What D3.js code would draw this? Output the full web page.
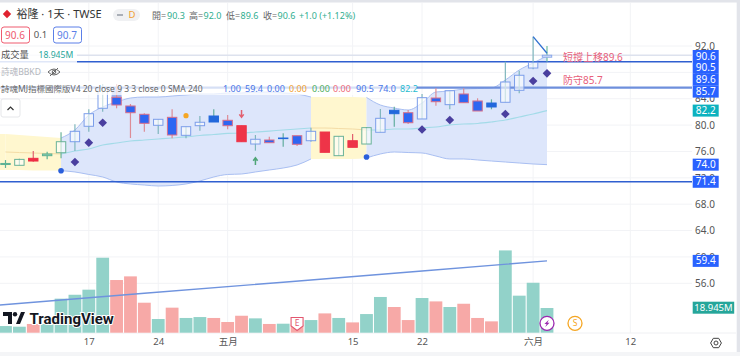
<!DOCTYPE html>
<html><head><meta charset="utf-8">
<script src="https://cdn.jsdelivr.net/npm/d3@7"></script>
<style>
html,body{margin:0;padding:0;background:#fff;overflow:hidden}
svg{display:block}
text{font-family:"Noto Sans","Noto Sans CJK TC",sans-serif}
</style></head><body>
<div id="chart"></div>
<script>
// ---- data ----
const opens  = [74.02,73.9,74.96,75.36,75.81,77.48,79.82,82.55,84.22,82.9,81.64,79.97,81.18,78.45,79.91,81.38,80.73,79.91,77.13,77.74,78.04,78.39,77.63,78.95,75.36,77.63,77.13,78.91,82.25,81.88,80.93,84.11,83.1,84.72,83.66,83.35,83.46,85.28,88.66,90.3];
const highs  = [74.7,74.9,76.07,75.97,78.91,80.12,82.4,86.23,86.23,83.2,81.79,80.88,82.4,79.76,81.38,82.4,81.53,79.91,78.5,78.24,78.76,78.39,79.61,78.95,78.3,78.65,79.71,82.44,82.79,82.29,84.72,85.58,85.22,85.58,84.07,83.91,89.62,88.25,93.41,92.0];
const lows   = [73.5,73.9,74.45,74.81,74.96,76.07,79.0,82.03,82.55,78.04,79.0,78.65,78.0,78.0,79.15,80.47,79.36,77.48,76.12,77.28,76.72,76.83,77.48,75.87,75.36,76.63,77.13,78.91,79.76,80.17,80.93,82.94,82.4,83.4,82.14,82.4,83.46,84.82,88.47,89.6];
const closes = [74.18,74.8,74.55,75.62,77.48,79.06,81.73,85.63,83.05,81.88,80.27,80.88,78.5,79.76,80.43,80.47,79.91,77.48,77.85,77.33,77.95,77.09,79.06,75.87,78.3,76.63,79.61,81.03,81.73,80.36,84.16,83.55,85.22,83.4,82.14,82.75,86.54,87.56,89.53,90.6];
const candleStyles = ["gf","hg","rt","gf","hg","hb","hb","hb","fr","fr","fr","hb","fr","hb","hb","fb","fr","r","hb","fr","fb","fr","hb","r","hg","r","hg","hb","fb","fr","hb","fr","hb","fr","fr","fb","hb","hb","hb","hl"];
const volumes = [5.1,4.6,6.7,6.7,26.1,29.1,33,57.5,40.4,43.2,23,10.5,19.2,11.3,12,11.3,8.2,13,11,6.7,6.9,6.1,9.7,14.8,11.3,7.9,14.3,27.4,19.7,9.7,26.6,24,19.7,22.2,11.3,8.7,63.1,28.4,38.3,18.945];
const volumeUp = [1,1,0,1,1,1,1,1,0,0,0,1,0,1,1,0,0,0,1,0,1,0,1,0,1,0,1,1,0,0,1,0,1,0,0,0,1,1,1,1];
const bandUpper = [78.65,78.5,78.35,78.2,78.04,79.26,81.53,82.75,83.5,84.11,84.26,84.26,84.41,84.57,84.72,84.72,84.87,84.87,85.02,85.02,84.87,84.72,84.26,84.26,84.26,84.26,84.19,83.05,82.59,82.29,83.35,85.02,85.17,85.47,85.55,85.63,86.84,88.36,89.42,90.5];
const bandLower = [73.19,73.19,73.11,73.11,73.08,72.89,72.51,72.13,71.37,71.07,70.91,70.76,70.84,71.07,71.52,72.13,72.51,72.58,72.89,73.19,73.49,73.95,74.86,74.86,74.86,74.86,75.01,75.62,75.92,75.84,75.77,75.31,74.86,74.86,74.71,74.55,74.4,74.25,74.1,74.0];
const bandMid = [75.92,75.84,75.77,75.69,75.62,76.07,76.37,76.98,77.28,77.59,77.74,77.89,78.04,78.2,78.42,78.57,78.73,78.8,78.95,79.1,79.26,79.41,79.56,79.56,79.48,79.41,79.26,79.26,79.41,79.41,79.56,79.71,80.02,80.17,80.24,80.47,80.77,81.23,81.68,82.2];
const squeezeSpans = [[0,4],[22,26]];
const wideSpans = [[4,22],[26,39]];
const smaIndex = [-0.4,10,20,30,39];
const smaValues = [52.71,54.48,56.17,57.87,59.4];
const diamondIndex = [5,6,7,30,32,36,38,39];
const diamondPrices = [74.4,77.33,80.36,79.33,80.77,81.68,86.69,87.86];
const dotIndex = [4,26];
const dotPrices = [73.08,75.16];
const levels = [89.6,85.7,71.4];
const annotations = [["短撐上移89.6",90.18],["防守85.7",86.84]];
const priceTicks = [92,88,84,80,76,72,68,64,60,56];
const dateTickIndex = [6,11,16,25,30,38,45];
const dateTickLabels = ["17","24","五月","15","22","六月","12"];
const axisTags = [["90.6",90.6],["90.5",88.8],["89.6",87.0],["85.7",85.2],["82.2",82.2],["74.0",74.0],["71.4",71.4],["59.4",59.4]];
const legendValues = ["1.00","59.4","0.00","0.00","0.00","0.00","90.5","74.0","82.2"];

// ---- scales ----
const W=740,H=356,plotR=692;
const x=d3.scaleLinear().domain([0,39]).range([5.5,547]);
const y=d3.scaleLinear().domain([92,56]).range([46,283.3]);
const yVol=d3.scaleLinear().domain([0,100]).range([332.7,202.3]);
const svg=d3.select("#chart").append("svg").attr("width",W).attr("height",H);
const C={grid:"#f2f3f6",blue:"#2962ff",line:"#2f5fd0",teal:"#26a69a",text:"#555"};

svg.append("rect").attr("width",W).attr("height",H).attr("fill","#fff");
// frame strips
svg.append("rect").attr("width",W).attr("height",2.5).attr("fill","#e2e4ea");
svg.append("rect").attr("x",736.7).attr("width",3.3).attr("height",H).attr("fill","#e2e4ea");
svg.append("rect").attr("y",352).attr("width",W).attr("height",4).attr("fill","#f4f5f7");

// grid
svg.append("g").selectAll("line").data(priceTicks).join("line")
 .attr("x1",0).attr("x2",plotR).attr("y1",d=>y(d)).attr("y2",d=>y(d)).attr("stroke",C.grid);
svg.append("g").selectAll("line").data(dateTickIndex).join("line")
 .attr("x1",d=>x(d)).attr("x2",d=>x(d)).attr("y1",3).attr("y2",333).attr("stroke",C.grid);
svg.append("line").attr("x1",0).attr("x2",736).attr("y1",333).attr("y2",333).attr("stroke","#eff0f3");

// band
const idx=d3.range(40);
const area=d3.area().x(i=>x(i)).y0(i=>y(bandLower[i])).y1(i=>y(bandUpper[i])).curve(d3.curveMonotoneX);
const up=d3.line().x(i=>x(i)).y(i=>y(bandUpper[i])).curve(d3.curveMonotoneX);
const lo=d3.line().x(i=>x(i)).y(i=>y(bandLower[i])).curve(d3.curveMonotoneX);
const mid=d3.line().x(i=>x(i)).y(i=>y(bandMid[i])).curve(d3.curveMonotoneX);
const span=s=>idx.filter(i=>i>=s[0]&&i<=s[1]);
const bandG=svg.append("g");
svg.append("clipPath").attr("id","plot").append("rect").attr("x",0).attr("y",0).attr("width",plotR).attr("height",333);
bandG.attr("clip-path","url(#plot)");
squeezeSpans.forEach(s=>{
 bandG.append("path").datum(span(s)).attr("d",area).attr("fill","#fff7cf");
 if(s[0]===0) bandG.append("rect").attr("x",0).attr("width",x(0)).attr("y",y(bandUpper[0])).attr("height",y(bandLower[0])-y(bandUpper[0])).attr("fill","#fff7cf");
 bandG.append("path").datum(span(s)).attr("d",mid).attr("fill","none").attr("stroke","#f4dca6").attr("stroke-width",1);
});
wideSpans.forEach(s=>{
 bandG.append("path").datum(span(s)).attr("d",area).attr("fill","#dde6fb");
 bandG.append("path").datum(span(s)).attr("d",up).attr("fill","none").attr("stroke","#a9bff2");
 bandG.append("path").datum(span(s)).attr("d",lo).attr("fill","none").attr("stroke","#a9bff2");
 bandG.append("path").datum(span(s)).attr("d",mid).attr("fill","none").attr("stroke","#a3dbe8").attr("stroke-width",1.2);
});

// volume
svg.append("g").attr("clip-path","url(#plot)").selectAll("rect").data(volumes).join("rect")
 .attr("x",(d,i)=>x(i)-6.4).attr("width",12.8)
 .attr("y",d=>yVol(d)).attr("height",d=>yVol(0)-yVol(d))
 .attr("fill",(d,i)=>volumeUp[i]?"#92d2c9":"#f7a9a7");

// SMA 240
svg.append("path").attr("clip-path","url(#plot)").datum(d3.range(smaIndex.length))
 .attr("d",d3.line().x(i=>x(smaIndex[i])).y(i=>y(smaValues[i])))
 .attr("fill","none").attr("stroke","#6f93de").attr("stroke-width",1.4);

// levels
const levelStyle=[["#2f5fd0",1.6],["#6e8fdc",2.2],["#2f5fd0",1.6]];
svg.append("line").attr("x1",0).attr("x2",plotR).attr("y1",y(90.6)).attr("y2",y(90.6)).attr("stroke","#dde2ee").attr("stroke-width",1.5);
svg.append("g").selectAll("line").data(levels).join("line")
 .attr("x1",0).attr("x2",plotR).attr("y1",d=>y(d)).attr("y2",d=>y(d))
 .attr("stroke",(d,i)=>levelStyle[i][0]).attr("stroke-width",(d,i)=>levelStyle[i][1]);

// candles
const hollow="rgba(255,255,255,0.6)";
const ST={
 gf:{fill:"#8fcdb6",stroke:"#5cb294",wick:"#5cb294"},
 rt:{fill:"#ee2e44",stroke:"#ee2e44",wick:"#e2606f"},
 hg:{fill:hollow,stroke:"#69b298",wick:"#69b298"},
 hb:{fill:hollow,stroke:"#7c9eea",wick:"#7fb6bd"},
 hl:{fill:"#dde6fb",stroke:"#8aa8ea",wick:"#6dbd9f"},
 fr:{fill:"#2e66f2",stroke:"#d9708a",wick:"#dd8c96"},
 fb:{fill:"#2268dc",stroke:"#2268dc",wick:"#62ad9f"},
 r :{fill:"#ee3448",stroke:"#ee3448",wick:"#e2606f"}
};
const g=svg.append("g");
g.append("rect").attr("x",x(8)-5).attr("width",10).attr("y",y(85.6)).attr("height",y(84.22)-y(85.6)).attr("fill","#9db5f0");
g.selectAll("line").data(idx).join("line")
 .attr("x1",i=>x(i)).attr("x2",i=>x(i)).attr("y1",i=>y(highs[i])).attr("y2",i=>y(lows[i]))
 .attr("stroke",i=>ST[candleStyles[i]].wick).attr("stroke-width",1.2);
g.selectAll("rect.b").data(idx).join("rect").attr("class","b")
 .attr("x",i=>x(i)-4.7).attr("width",9.4)
 .attr("y",i=>y(Math.max(opens[i],closes[i])))
 .attr("height",i=>Math.max(0.6,y(Math.min(opens[i],closes[i]))-y(Math.max(opens[i],closes[i]))))
 .attr("fill",i=>ST[candleStyles[i]].fill).attr("stroke",i=>ST[candleStyles[i]].stroke).attr("stroke-width",1);

// markers
svg.append("g").selectAll("path").data(diamondIndex).join("path")
 .attr("transform",(d,i)=>`translate(${x(d)},${y(diamondPrices[i])})`)
 .attr("d",d3.symbol(d3.symbolDiamond2,48)).attr("fill","#4a3f9f");
svg.append("g").selectAll("circle").data(dotIndex).join("circle")
 .attr("cx",d=>x(d)).attr("cy",(d,i)=>y(dotPrices[i])).attr("r",2.8).attr("fill","#2a5fdc");
svg.append("circle").attr("cx",x(13)).attr("cy",y(81.43)).attr("r",2.6).attr("fill","#f5a623");
function arrow(xp,p1,p2,c){
 const a=y(p1),b=y(p2),dir=b>a?1:-1;
 svg.append("path").attr("d",`M${xp},${a}V${b}M${xp-2.2},${b-dir*3}L${xp},${b}L${xp+2.2},${b-dir*3}`)
  .attr("fill","none").attr("stroke",c).attr("stroke-width",1.5);
}
arrow(x(17),82.29,81.18,"#e2606f");
arrow(x(18),73.95,75.05,"#4fa576");
svg.append("path").datum([[38,93.41],[39,90.9]]).attr("d",d3.line().x(d=>x(d[0])).y(d=>y(d[1])))
 .attr("fill","none").attr("stroke","#2f6fd0").attr("stroke-width",1.3);
svg.append("g").selectAll("text").data(annotations).join("text")
 .attr("x",x(39)+16).attr("y",d=>y(d[1])).attr("dy","0.35em").text(d=>d[0])
 .attr("font-size",10).attr("fill","#e8607a");

// axes
const yAxis=d3.axisRight(y).tickValues(priceTicks).tickSize(0).tickPadding(13).tickFormat(d3.format(".1f"));
const ya=svg.append("g").attr("transform",`translate(${plotR},0)`).call(yAxis);
ya.select(".domain").remove();
ya.selectAll("text").attr("text-anchor","middle").attr("font-size",10).attr("fill",C.text).attr("style","font-family:'Noto Sans'");
const xAxis=d3.axisBottom(x).tickValues(dateTickIndex).tickSize(0).tickPadding(5).tickFormat((d,i)=>dateTickLabels[i]);
const xa=svg.append("g").attr("transform","translate(0,333)").call(xAxis);
xa.select(".domain").remove();
xa.selectAll("text").attr("font-size",9.5).attr("fill",C.text);

// axis tags
const tagY={"90.6":56,"90.5":67.8,"89.6":79.7,"85.7":91.6};
const tags=svg.append("g");
axisTags.forEach(t=>{
 const cy=tagY[t[0]]!==undefined?tagY[t[0]]:y(t[1]);
 const col=t[0]==="82.2"?"#0db2bf":C.blue;
 tags.append("rect").attr("x",692.7).attr("y",cy-6).attr("width",26).attr("height",12).attr("fill",col);
 tags.append("text").attr("x",705.7).attr("y",cy).attr("dy","0.36em").attr("text-anchor","middle").attr("font-size",10).attr("fill","#fff").text(t[0]);
});
tags.append("rect").attr("x",692.7).attr("y",301.7).attr("width",41.5).attr("height",12).attr("fill",C.teal);
tags.append("text").attr("x",713.5).attr("y",307.7).attr("dy","0.36em").attr("text-anchor","middle").attr("font-size",9.5).attr("fill","#fff").text("18.945M");
const gear=svg.append("g").attr("transform","translate(716,343)");
gear.append("path").attr("d",d3.line().curve(d3.curveLinearClosed)(d3.range(6).map(k=>[5.4*Math.cos(k*Math.PI/3),5.4*Math.sin(k*Math.PI/3)])))
 .attr("fill","none").attr("stroke","#444").attr("stroke-width",1);
gear.append("circle").attr("r",2).attr("fill","none").attr("stroke","#444");

// events
const ev=svg.append("g");
ev.append("path").attr("transform",`translate(${x(21)},0)`).attr("d","M-6,317.5H6V326L0,330.5L-6,326Z").attr("fill","#fff").attr("stroke","#e3566f").attr("stroke-width",1.1);
ev.append("text").attr("x",x(21)).attr("y",323.5).attr("dy","0.35em").attr("text-anchor","middle").attr("font-size",8.5).attr("fill","#e3566f").text("E");
ev.append("circle").attr("cx",x(39)).attr("cy",323.3).attr("r",7).attr("fill","#fff").attr("stroke","#9c27b0").attr("stroke-width",1.3);
ev.append("path").attr("transform",`translate(${x(39)},323.3)`).attr("d","M1.8,-3.6L-2.6,0.6H-0.4L-1.8,3.6L2.6,-0.6H0.4Z").attr("fill","#9c27b0");
ev.append("circle").attr("cx",575).attr("cy",323.3).attr("r",7).attr("fill","#fff").attr("stroke","#f5a623").attr("stroke-width",1.3);
ev.append("text").attr("x",575).attr("y",323.3).attr("dy","0.35em").attr("text-anchor","middle").attr("font-size",8.5).attr("fill","#f5a623").text("S");

// TradingView mark
const tv=svg.append("g");
tv.append("path").attr("d","M3,312H12V324H8V316H3ZM21,312H25L20,324H16Z").attr("fill","#131722").attr("stroke","#fff").attr("stroke-width",.6).attr("paint-order","stroke");
tv.append("circle").attr("cx",15).attr("cy",314.2).attr("r",2.2).attr("fill","#131722");
tv.append("text").attr("x",29.5).attr("y",323.5).text("TradingView").attr("font-size",15).attr("font-weight",700).attr("fill","#131722")
 .attr("stroke","#fff").attr("stroke-width",2).attr("paint-order","stroke").attr("style","font-family:Roboto");

// legend
const lg=svg.append("g");
lg.append("rect").attr("x",0).attr("y",47).attr("width",77).attr("height",16).attr("fill","#fff").attr("opacity",.85);
lg.append("rect").attr("x",0).attr("y",81).attr("width",417).attr("height",14).attr("fill","#fff").attr("opacity",.72);
lg.append("path").attr("transform","translate(7,14)").attr("d",d3.symbol(d3.symbolDiamond2,45)).attr("fill","#e0222f");
lg.append("text").attr("x",16.5).attr("y",14).attr("dy","0.36em").attr("font-size",11).attr("fill","#333").text("裕隆 · 1天 · TWSE");
lg.append("rect").attr("x",113).attr("y",9).attr("width",27).attr("height",12).attr("rx",6).attr("fill","#f0f1f3");
lg.append("rect").attr("x",117).attr("y",14.2).attr("width",6).attr("height",1.6).attr("fill","#9a9ea8");
lg.append("text").attr("x",132).attr("y",15).attr("dy","0.36em").attr("text-anchor","middle").attr("font-size",9.5).attr("fill","#f0a030").text("D");
const ohlc=[["開=",152],["90.3",167],["高=",189],["92.0",203.5],["低=",226],["89.6",240.5],["收=",263],["90.6",277.5],["+1.0 (+1.12%)",299]];
ohlc.forEach((t,i)=>lg.append("text").attr("x",t[1]).attr("y",16).attr("dy","0.36em").attr("font-size",9).attr("fill",i%2||i===8?"#2fae8f":"#666").text(t[0]));
[[1,28,"90.6","#ef5a6f"],[53,28,"90.7","#5b7fe8"]].forEach(b=>{
 lg.append("rect").attr("x",b[0]+.5).attr("y",27).attr("width",b[1]).attr("height",16).attr("rx",2.5).attr("fill","#fff").attr("stroke",b[3]);
 lg.append("text").attr("x",b[0]+b[1]/2).attr("y",35).attr("dy","0.36em").attr("text-anchor","middle").attr("font-size",10).attr("fill",b[3]).text(b[2]);
});
lg.append("text").attr("x",40.5).attr("y",35).attr("dy","0.36em").attr("text-anchor","middle").attr("font-size",9.5).attr("fill","#555").text("0.1");
lg.append("text").attr("x",1).attr("y",55).attr("dy","0.36em").attr("font-size",9.3).attr("fill","#555").text("成交量");
lg.append("text").attr("x",38.5).attr("y",55).attr("dy","0.36em").attr("font-size",8.6).attr("fill","#26a69a").text("18.945M");
lg.append("text").attr("x",1).attr("y",72).attr("dy","0.36em").attr("font-size",8.6).attr("fill","#b3b6bd").text("詩魂BBKD");
const eye=lg.append("g").attr("transform","translate(54,72)").attr("fill","none").attr("stroke","#666");
eye.append("path").attr("d","M-6,0Q0,-6 6,0Q0,6 -6,0Z");
eye.append("circle").attr("r",1.8);
eye.append("path").attr("d","M-4,4L4,-4");
lg.append("text").attr("x",1).attr("y",89).attr("dy","0.36em").attr("font-size",8.5).attr("fill","#666").text("詩魂MJ指標國際版V4 20 close 9 3 3 close 0 SMA 240");
const legX=[223,245,267,289,312,333,356,378,400];
const legC=["#4a76e8","#4a76e8","#4a76e8","#f0a030","#4fae5c","#ef6a78","#4a76e8","#4a76e8","#28bcd0"];
legendValues.forEach((v,i)=>lg.append("text").attr("x",legX[i]).attr("y",89).attr("dy","0.36em").attr("font-size",9).attr("fill",legC[i]).text(v));
lg.append("rect").attr("x",1).attr("y",99).attr("width",19).attr("height",18).attr("rx",2).attr("fill","#fff").attr("stroke","#e6e7ea");
lg.append("path").attr("d","M7.5,110L10.5,107L13.5,110").attr("fill","none").attr("stroke","#333").attr("stroke-width",1.2);
</script></body></html>
